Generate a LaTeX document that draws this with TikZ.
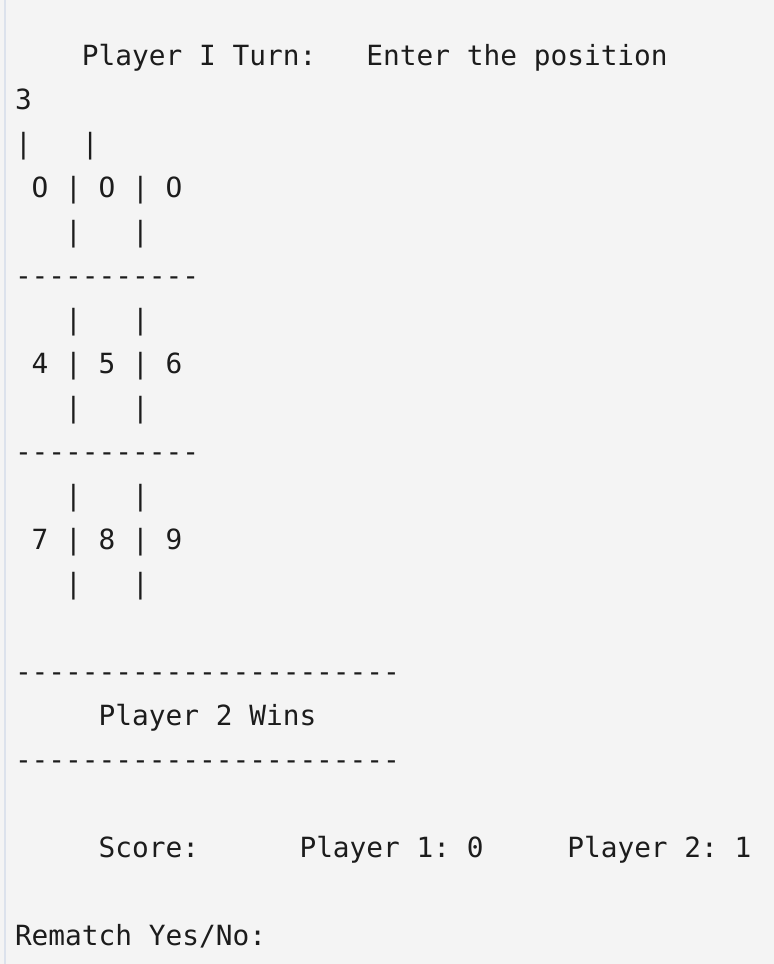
\documentclass[tikz,border=0pt]{standalone}
\usepackage{fontspec}
\setmonofont{DejaVu Sans Mono}
\usepackage{tikz}
\usetikzlibrary{backgrounds}
\definecolor{termbg}{HTML}{F4F4F4}
\definecolor{termbar}{HTML}{DCE2EC}
\definecolor{termtext}{HTML}{1C1C1C}

\begin{document}
\begin{tikzpicture}[x=0.5pt,y=-0.5pt,
  outline/.style={anchor=base west,inner sep=0pt,outer sep=0pt,text=termtext,
    font=\ttfamily\fontsize{13.9pt}{16pt}\selectfont}]
\useasboundingbox (0,0) rectangle (774,964);
\fill[termbg] (0,0) rectangle (774,964);
\fill[termbar] (4,0) rectangle (6,964);
% prompt
\node[outline] (turn) at (15,65) {~~~~Player I Turn:~~~Enter the position};
\node[outline] (input) at (15,109) {3};
% board
\node[outline] (bars0) at (15,153) {|~~~|};
\node[outline] (row1) at (15,197) {~O~|~O~|~O};
\node[outline] (bars1) at (15,241) {~~~|~~~|};
\node[outline] (rule1) at (15,285) {-----------};
\node[outline] (bars2) at (15,329) {~~~|~~~|};
\node[outline] (row2) at (15,373) {~4~|~5~|~6};
\node[outline] (bars3) at (15,417) {~~~|~~~|};
\node[outline] (rule2) at (15,461) {-----------};
\node[outline] (bars4) at (15,505) {~~~|~~~|};
\node[outline] (row3) at (15,549) {~7~|~8~|~9};
\node[outline] (bars5) at (15,593) {~~~|~~~|};
% result
\node[outline] (rule3) at (15,681) {-----------------------};
\node[outline] (winner) at (15,725) {~~~~~Player 2 Wins};
\node[outline] (rule4) at (15,769) {-----------------------};
\node[outline] (score) at (15,857) {~~~~~Score:~~~~~~Player 1: 0~~~~~Player 2: 1};
\node[outline] (rematch) at (15,945) {Rematch Yes/No:};
\end{tikzpicture}
\end{document}
